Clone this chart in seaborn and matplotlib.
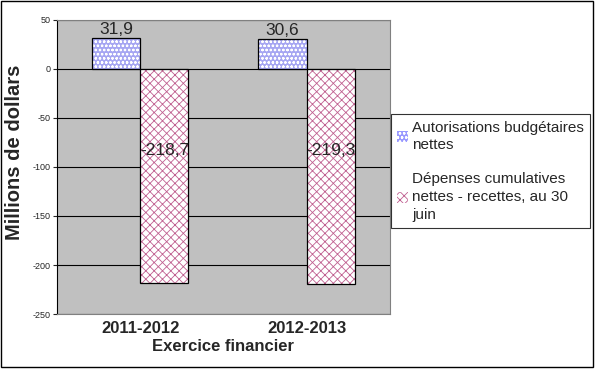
import matplotlib
matplotlib.use("Agg")
import matplotlib.pyplot as plt
import matplotlib.patches as mpatches
import seaborn as sns
import pandas as pd

exercices = ["2011-2012", "2012-2013"]
series = ["Autorisations budgétaires\nnettes",
          "Dépenses cumulatives\nnettes - recettes, au 30\njuin"]
autorisations = [31.9, 30.6]
depenses = [-218.7, -219.3]

df = pd.DataFrame({
    "exercice": exercices * 2,
    "serie": [series[0]] * 2 + [series[1]] * 2,
    "valeur": autorisations + depenses,
})

sns.set_style("white")
plt.rcParams["font.family"] = ["Liberation Sans", "DejaVu Sans"]
plt.rcParams["axes.unicode_minus"] = False
plt.rcParams["hatch.linewidth"] = 0.6

fig = plt.figure(figsize=(5.95, 3.69), dpi=100)
ax = fig.add_axes([0.096, 0.149, 0.559, 0.797])
ax.set_facecolor("#c0c0c0")

couleurs = ["#9999ff", "#ffffff"]
sns.barplot(data=df, x="exercice", y="valeur", hue="serie", palette=couleurs,
            width=0.58, ax=ax, legend=False)

hachures = ["oooo", "xxxx"]
couleurs_hach = ["#ffffff", "#c06090"]
for cont, h, hc in zip(ax.containers, hachures, couleurs_hach):
    for p in cont:
        p.set_hatch(h)
        p.set_edgecolor(hc)
        p.set_linewidth(0)
        contour = mpatches.Rectangle(p.get_xy(), p.get_width(), p.get_height(),
                                     fill=False, edgecolor="black", lw=0.9, zorder=3)
        ax.add_patch(contour)

# étiquettes de valeurs
for p, v in zip(ax.containers[0], autorisations):
    ax.text(p.get_x() + p.get_width() / 2, v + 1, f"{v:.1f}".replace(".", ","),
            ha="center", va="bottom", fontsize=12.5)
for p, v in zip(ax.containers[1], depenses):
    ax.text(p.get_x() + p.get_width() / 2, v * 0.38, f"{v:.1f}".replace(".", ","),
            ha="center", va="center", fontsize=12.5)

ax.set_ylim(-250, 50)
ax.set_yticks(range(-250, 51, 50))
ax.set_xlim(-0.5, 1.5)
ax.yaxis.grid(True, color="black", lw=0.8)
ax.set_axisbelow(True)
ax.tick_params(axis="y", labelsize=6.5, length=3, left=True, direction="out", pad=2)
ax.tick_params(axis="x", labelsize=12, length=0, pad=5)
for lab in ax.get_xticklabels():
    lab.set_fontweight("bold")
for s in ["top", "right", "bottom"]:
    ax.spines[s].set_color("#808080")
ax.spines["left"].set_color("black")
ax.set_xlabel("Exercice financier", fontsize=12, fontweight="bold", labelpad=2)
ax.set_ylabel("Millions de dollars", fontsize=14.5, fontweight="bold")
ax.yaxis.set_label_coords(-0.1, 0.55)

handles = [mpatches.Patch(facecolor=c, edgecolor=hc, hatch=h, lw=0)
           for c, h, hc in zip(couleurs, hachures, couleurs_hach)]
leg = fig.legend(handles, series, loc="upper left", bbox_to_anchor=(0.657, 0.69),
                 fontsize=11, frameon=True, fancybox=False, labelspacing=1.3,
                 handlelength=0.7, handleheight=0.7, handletextpad=0.3,
                 borderpad=0.4, borderaxespad=0)
for t in leg.get_texts():
    t.set_linespacing(1.35)
leg.get_frame().set_edgecolor("black")
leg.get_frame().set_linewidth(0.8)

fig.patches.append(mpatches.Rectangle((0.002, 0.006), 0.994, 0.99, transform=fig.transFigure,
                                      fill=False, edgecolor="black", lw=1))
fig.savefig("out.png", dpi=100)
